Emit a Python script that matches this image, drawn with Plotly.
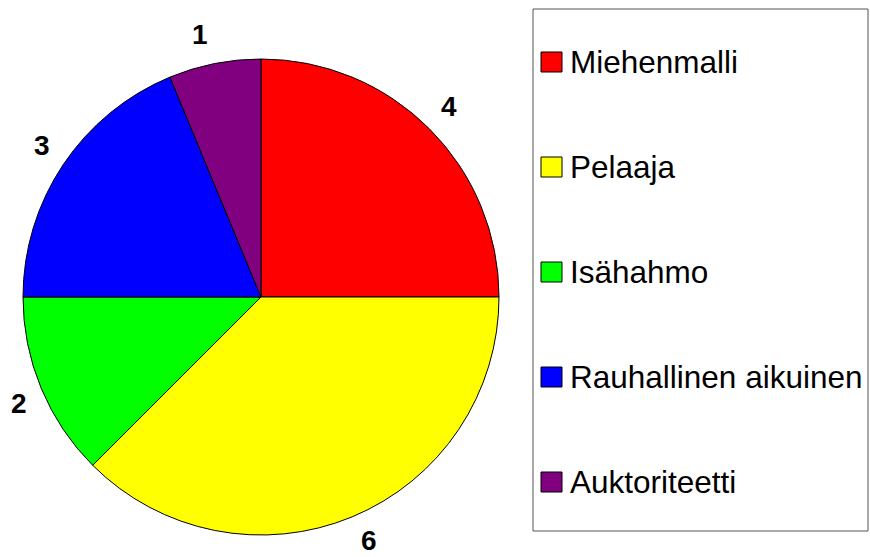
import math
import plotly.graph_objects as go

categories = ["Miehenmalli", "Pelaaja", "Isähahmo", "Rauhallinen aikuinen", "Auktoriteetti"]
values = [4, 6, 2, 3, 1]
colors = ["#FF0000", "#FFFF00", "#00FF00", "#0000FF", "#800080"]

W, H = 870, 557
cx, cy, r = 261, 297, 238
# label placement: radial distance plus half text-box offset
label_rx, label_ry = 248, 260
box_dx, box_dy = 13, 7
edge_pad = 17  # keep label boxes inside the page


def px(x):
    return x / W


def py(y):
    return 1 - y / H


def sgn(a):
    return 0 if abs(a) < 1e-9 else (1 if a > 0 else -1)


fig = go.Figure()
fig.add_trace(go.Pie(
    labels=categories,
    values=values,
    sort=False,
    direction="clockwise",
    rotation=0,
    marker=dict(colors=colors, line=dict(color="black", width=1)),
    textinfo="none",
    domain=dict(x=[px(cx - r), px(cx + r)], y=[py(cy + r), py(cy - r)]),
    showlegend=False,
    hoverinfo="label+value",
))

annotations = []
# value labels outside the pie, at each slice's mid angle
total = sum(values)
cum = 0
for v in values:
    mid = (cum + v / 2) / total * 2 * math.pi
    cum += v
    s, c = math.sin(mid), math.cos(mid)
    lx = cx + label_rx * s + box_dx * sgn(s)
    ly = cy - (label_ry * c + box_dy * sgn(c))
    lx = min(max(lx, edge_pad), W - edge_pad)
    ly = min(max(ly, edge_pad), H - edge_pad)
    annotations.append(dict(xref="paper", yref="paper", x=px(lx), y=py(ly),
                            xanchor="center", yanchor="middle", showarrow=False,
                            text=f"<b>{v}</b>",
                            font=dict(family="Liberation Sans, Arial", size=28, color="black")))

# Legend box
shapes = [dict(type="rect", xref="paper", yref="paper",
               x0=px(533), x1=px(868), y0=py(531), y1=py(9),
               line=dict(color="#555555", width=1), fillcolor="white", layer="below")]
for i, (cat, col) in enumerate(zip(categories, colors)):
    yc = 62 + 105 * i
    shapes.append(dict(type="rect", xref="paper", yref="paper",
                       x0=px(541), x1=px(562), y0=py(yc + 10), y1=py(yc - 10),
                       line=dict(color="black", width=1), fillcolor=col))
    annotations.append(dict(xref="paper", yref="paper", x=px(568), y=py(yc),
                            xanchor="left", yanchor="middle", showarrow=False, text=cat,
                            font=dict(family="Liberation Sans, Arial", size=31.5, color="black")))

fig.update_layout(
    width=W, height=H,
    margin=dict(l=0, r=0, t=0, b=0),
    paper_bgcolor="white", plot_bgcolor="white",
    shapes=shapes, annotations=annotations,
    showlegend=False,
)
fig.write_html("out.html", config={"displayModeBar": False},
               post_script="document.body.style.margin='0';document.body.style.overflow='hidden';")
